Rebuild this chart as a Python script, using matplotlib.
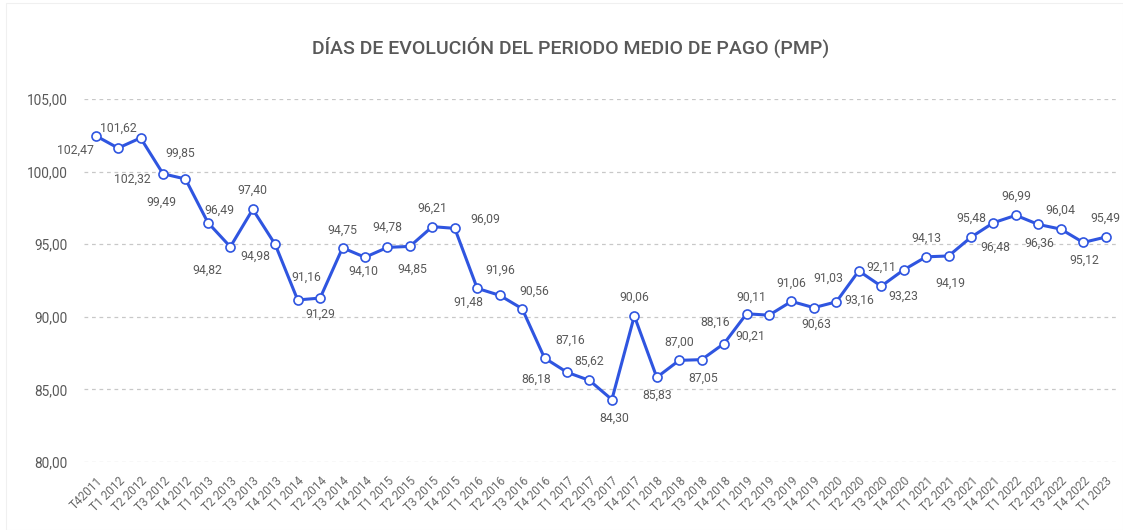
import matplotlib
matplotlib.use("Agg")
import matplotlib.pyplot as plt
from matplotlib.patches import Rectangle

# trimestres
quarters = ["T4 2011"] + ["T%d %d" % (q, y) for y in range(2012, 2023) for q in range(1, 5)] + ["T1 2023"]
quarters[0] = "T42011"

pmp = [102.47, 101.62, 102.32, 99.85, 99.49, 96.49, 94.82, 97.40, 94.98, 91.16,
       91.29, 94.75, 94.10, 94.78, 94.85, 96.21, 96.09, 91.96, 91.48, 90.56,
       87.16, 86.18, 85.62, 84.30, 90.06, 85.83, 87.00, 87.05, 88.16, 90.21,
       90.11, 91.06, 90.63, 91.03, 93.16, 92.11, 93.23, 94.13, 94.19, 95.48,
       96.48, 96.99, 96.36, 96.04, 95.12, 95.49]

yticks = [80, 85, 90, 95, 100, 105]

# desplazamiento de cada etiqueta (px)
lab_off = [(-20, -15), (0, 20), (-8, -41), (17, 21), (-24, -23), (11, 12), (-23, -23),
           (0, 19), (-20, -12), (9, 23), (0, -16), (0, 18), (-2, -14), (0, 20), (2, -23),
           (0, 18), (31, 9), (23, 18), (-31, -7), (12, 17), (26, 18), (-31, -7), (0, 19),
           (2, -19), (0, 19), (0, -18), (0, 18), (2, -19), (-9, 21), (4, -23), (-18, 18),
           (0, 18), (2, -17), (-8, 24), (1, -29), (0, 19), (0, -26), (0, 19), (2, -27),
           (0, 19), (2, -25), (0, 19), (1, -19), (0, 19), (1, -18), (0, 19)]

W, H = 1123, 530
fig = plt.figure(figsize=(W / 100, H / 100), dpi=100)
fig.patches.append(Rectangle((6 / W, 0), 1 - 6 / W, 1 - 3 / H, transform=fig.transFigure,
                             fill=False, edgecolor="#f0f0f0", linewidth=0.8))

ax = fig.add_axes([84 / W, 1 - 462 / H, (1118 - 84) / W, (462 - 99) / H])
ax.set_facecolor("none")
x = list(range(len(pmp)))
blue = "#2f55e0"
ax.plot(x, pmp, color=blue, linewidth=2.2, marker="o", markersize=6.5,
        markerfacecolor="white", markeredgecolor=blue, markeredgewidth=1.2, zorder=3)

for i, v in enumerate(pmp):
    dx, dy = lab_off[i]
    ax.annotate(("%.2f" % v).replace(".", ","), (i, v), xytext=(dx * 0.72, dy * 0.72),
                textcoords="offset points", ha="center", va="center",
                fontsize=8.8, color="#595959", family="Roboto")

ax.set_xlim(-0.52, 45.55)
ax.set_ylim(80, 105)
ax.set_yticks(yticks)
ax.set_yticklabels(["%d,00" % t for t in yticks], fontsize=9.8, color="#595959", family="Roboto")
ax.grid(axis="y", linestyle=(0, (3, 3)), color="#c8c8c8", linewidth=0.9)
ax.set_axisbelow(True)
for s in ax.spines.values():
    s.set_visible(False)
ax.tick_params(length=0)
ax.tick_params(axis="y", pad=12)
ax.set_xticks(x)
ax.set_xticklabels(quarters, rotation=45, ha="right", rotation_mode="anchor",
                   fontsize=8.6, color="#6a6a6a", family="Roboto")
ax.tick_params(axis="x", pad=9)

fig.text(571 / W, 1 - 47 / H, "DÍAS DE EVOLUCIÓN DEL PERIODO MEDIO DE PAGO (PMP)",
         ha="center", va="center", fontsize=14, color="#595959", family="Roboto",
         fontweight="medium")

fig.savefig("out.png", dpi=100)
